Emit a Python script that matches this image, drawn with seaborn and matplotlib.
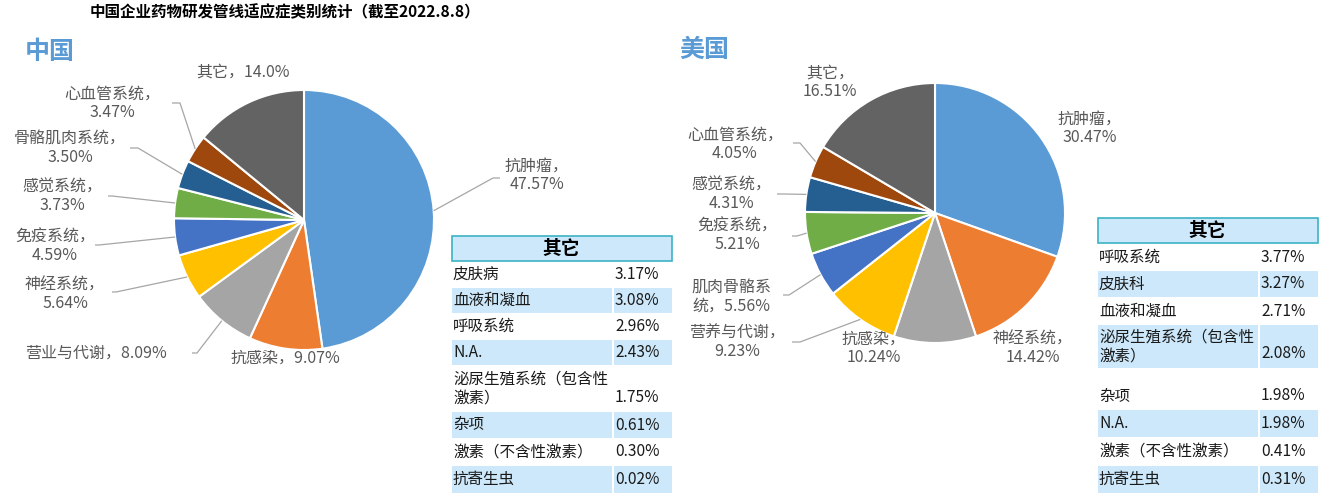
import matplotlib
matplotlib.use("Agg")
import matplotlib.pyplot as plt
import seaborn as sns
import numpy as np
from matplotlib.patches import Rectangle

# ---- data ----
cn_labels = ["抗肿瘤", "抗感染", "营业与代谢", "神经系统", "免疫系统", "感觉系统", "骨骼肌肉系统", "心血管系统", "其它"]
cn_values = [47.57, 9.07, 8.09, 5.64, 4.59, 3.73, 3.50, 3.47, 14.0]
cn_value_text = ["47.57%", "9.07%", "8.09%", "5.64%", "4.59%", "3.73%", "3.50%", "3.47%", "14.0%"]

us_labels = ["抗肿瘤", "神经系统", "抗感染", "营养与代谢", "肌肉骨骼系统", "免疫系统", "感觉系统", "心血管系统", "其它"]
us_values = [30.47, 14.42, 10.24, 9.23, 5.56, 5.21, 4.31, 4.05, 16.51]
us_value_text = ["30.47%", "14.42%", "10.24%", "9.23%", "5.56%", "5.21%", "4.31%", "4.05%", "16.51%"]

cn_other_names = ["皮肤病", "血液和凝血", "呼吸系统", "N.A.", "泌尿生殖系统（包含性\n激素）", "杂项", "激素（不含性激素）", "抗寄生虫"]
cn_other_values = ["3.17%", "3.08%", "2.96%", "2.43%", "1.75%", "0.61%", "0.30%", "0.02%"]

us_other_names = ["呼吸系统", "皮肤科", "血液和凝血", "泌尿生殖系统（包含性\n激素）", "", "杂项", "N.A.", "激素（不含性激素）", "抗寄生虫"]
us_other_values = ["3.77%", "3.27%", "2.71%", "2.08%", "", "1.98%", "1.98%", "0.41%", "0.31%"]

colors = ["#5B9BD5", "#ED7D31", "#A5A5A5", "#FFC000", "#4472C4",
          "#70AD47", "#255E91", "#9E480E", "#636363"]

# ---- style ----
sns.set_theme(style="white")
plt.rcParams['font.family'] = ['Noto Sans CJK SC', 'DejaVu Sans']

W, H = 1341, 500
fig = plt.figure(figsize=(W / 100, H / 100), dpi=100)
ax = fig.add_axes([0, 0, 1, 1])
palette = sns.color_palette(colors)

label_color = "#595959"
line_color = "#A6A6A6"
label_size = 11.5


def Y(py):
    return H - py


def draw_pie(values, labels, vtexts, center, radius, label_layout):
    ax.pie(values, colors=palette, startangle=90, counterclock=False,
           center=(center[0], Y(center[1])), radius=radius,
           wedgeprops=dict(edgecolor="white", linewidth=1.5))
    total = sum(values)
    cum = 0
    for v, lab, vt, lay in zip(values, labels, vtexts, label_layout):
        mid = cum + v / 2
        cum += v
        ang = np.deg2rad(90 - 360 * mid / total)
        anchor = (center[0] + radius * np.cos(ang), Y(center[1]) + radius * np.sin(ang))
        tx, ty, form, lead = lay
        if form == "one":
            txt = f"{lab}，{vt}"
        elif form == "split":
            txt = f"{lab[:-1]}\n{lab[-1]}，{vt}"
        else:
            txt = f"{lab}，\n{vt}"
        ax.text(tx, Y(ty), txt, ha="center", va="center", fontsize=label_size,
                color=label_color, linespacing=1.1)
        if lead is not None:
            sx, sy, elbow = lead
            ax.plot([sx, sx + elbow, anchor[0]], [Y(sy), Y(sy), anchor[1]],
                    color=line_color, lw=0.9, solid_capstyle="butt")


def draw_table(names, vals, x0, y0, w_name, w_val, heights, header_h):
    blue = "#CCE8FA"
    ax.add_patch(Rectangle((x0, Y(y0 + header_h)), w_name + w_val + 2, header_h,
                           facecolor=blue, edgecolor="#3BB3C3", lw=1.2))
    ax.text(x0 + (w_name + w_val) / 2, Y(y0 + header_h / 2), "其它", ha="center",
            va="center", fontsize=13.5, fontweight="bold", color="#000000")
    y = y0 + header_h + 1
    shade = False
    for name, val, h in zip(names, vals, heights):
        if name == "":
            y += h
            continue
        if shade:
            ax.add_patch(Rectangle((x0, Y(y + h)), w_name, h, facecolor=blue, lw=0))
            ax.add_patch(Rectangle((x0 + w_name + 2, Y(y + h)), w_val, h, facecolor=blue, lw=0))
        shade = not shade
        if "\n" in name:
            ax.text(x0 + 1, Y(y + h / 2), name, ha="left", va="center", fontsize=11.2,
                    color="#1A1A1A", linespacing=1.15)
            ax.text(x0 + w_name + 3, Y(y + h - 14), val, ha="left", va="center",
                    fontsize=11.2, color="#1A1A1A")
        else:
            ax.text(x0 + 1, Y(y + h / 2), name, ha="left", va="center", fontsize=11.2,
                    color="#1A1A1A")
            ax.text(x0 + w_name + 3, Y(y + h / 2), val, ha="left", va="center",
                    fontsize=11.2, color="#1A1A1A")
        y += h + 1


# label layout: (x, y, form, leader (start x, start y, elbow length))
cn_layout = [
    (537, 175, "two", (500, 178, -7)),
    (285, 358, "one", None),
    (96, 353, "one", (192, 353, 5)),
    (65, 294, "two", (112, 292, 4)),
    (55, 246, "two", (95, 245, 4)),
    (62, 196, "two", (108, 196, 4)),
    (70, 148, "two", (130, 148, 8)),
    (112, 103, "two", (172, 103, 8)),
    (243, 72, "one", None),
]
us_layout = [
    (1090, 128, "two", None),
    (1033, 348, "two", None),
    (874, 348, "two", None),
    (737, 342, "two", (792, 342, 8)),
    (731, 297, "split", (783, 295, 6)),
    (737, 235, "two", (792, 236, 5)),
    (731, 194, "two", (777, 194, 6)),
    (735, 144, "two", (793, 143, 7)),
    (830, 82, "two", None),
]

draw_pie(cn_values, cn_labels, cn_value_text, (304, 220), 130, cn_layout)
draw_pie(us_values, us_labels, us_value_text, (935, 213), 130, us_layout)

draw_table(cn_other_names, cn_other_values, 452, 236, 160, 58,
           [25, 25, 25, 25, 45, 26, 26, 27], 25)
draw_table(us_other_names, us_other_values, 1098, 218, 160, 58,
           [26, 26, 26, 43, 14, 26, 27, 27, 27], 25)

ax.text(90, Y(12), "中国企业药物研发管线适应症类别统计（截至2022.8.8）", ha="left",
        va="center", fontsize=11.2, fontweight="bold", color="#000000")
ax.text(25, Y(52), "中国", ha="left", va="center", fontsize=18, fontweight="bold",
        color="#5B9BD5")
ax.text(679, Y(50), "美国", ha="left", va="center", fontsize=18, fontweight="bold",
        color="#5B9BD5")

ax.set_xlim(0, W)
ax.set_ylim(0, H)
ax.set_aspect("auto")
ax.axis("off")

fig.savefig("out.png", dpi=100)
